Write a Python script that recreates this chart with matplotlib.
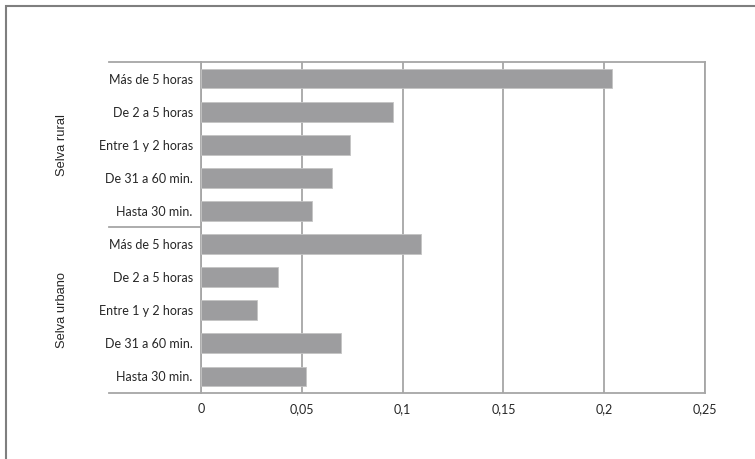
import numpy as np
import matplotlib
matplotlib.use('Agg')
import matplotlib.pyplot as plt
from matplotlib.patches import Rectangle
from matplotlib.lines import Line2D

# data (top to bottom)
groups = ['Selva rural', 'Selva urbano']
categories = ['Más de 5 horas', 'De 2 a 5 horas', 'Entre 1 y 2 horas',
              'De 31 a 60 min.', 'Hasta 30 min.']
rural_values = [0.204, 0.095, 0.074, 0.065, 0.055]
urbano_values = [0.109, 0.038, 0.028, 0.0695, 0.052]
x_ticks = [0, 0.05, 0.1, 0.15, 0.2, 0.25]
x_tick_labels = ['0', '0,05', '0,1', '0,15', '0,2', '0,25']

line_col = '#a6a6a6'
bar_col = '#9d9d9f'
text_col = '#262626'

fig = plt.figure(figsize=(7.55, 4.59), dpi=100)
ax = fig.add_axes([201 / 755, 1 - 393 / 459, 504 / 755, 331 / 459])

values = rural_values + urbano_values
labels = categories + categories
n = len(values)
ypos = np.arange(n)

ax.barh(ypos, values, height=0.6, color=bar_col, edgecolor='#c4c4c4',
        linewidth=0.6, zorder=3)
ax.set_ylim(n - 0.5, -0.5)
ax.set_xlim(0, 0.25)

ax.set_xticks(x_ticks)
ax.set_xticklabels(x_tick_labels, fontsize=9, family='Lato', color=text_col)
ax.set_yticks(ypos)
ax.set_yticklabels(labels, fontsize=9, family='Lato', color=text_col)
ax.tick_params(axis='y', length=0, pad=6)
ax.tick_params(axis='x', length=0, pad=7)

ax.grid(axis='x', color=line_col, linewidth=1.3, zorder=0)
for s in ax.spines.values():
    s.set_color(line_col)
    s.set_linewidth(1.3)

# group divider lines reaching out under the category labels
x0 = 109 / 755
x1 = 201 / 755
for yv in [-0.5, 4.5, 9.5]:
    yf = fig.transFigure.inverted().transform(ax.transData.transform((0, yv)))[1]
    fig.add_artist(Line2D([x0, x1], [yf, yf], color=line_col, linewidth=1.3))

# group labels, rotated
for i, g in enumerate(groups):
    yc = i * 5 + 2
    yf = fig.transFigure.inverted().transform(ax.transData.transform((0, yc)))[1]
    fig.text(62 / 755, yf, g, rotation=90, ha='center', va='center',
             fontsize=9.3, family='Liberation Sans', color=text_col)

# outer frame (only left and top edges fall inside the picture)
fig.add_artist(Rectangle((6 / 755, -0.1), 1.2, 1 - 6 / 459 + 0.1,
                         transform=fig.transFigure, fill=False,
                         edgecolor='#7f7f7f', linewidth=1.5))

fig.savefig('out.png', dpi=100)
